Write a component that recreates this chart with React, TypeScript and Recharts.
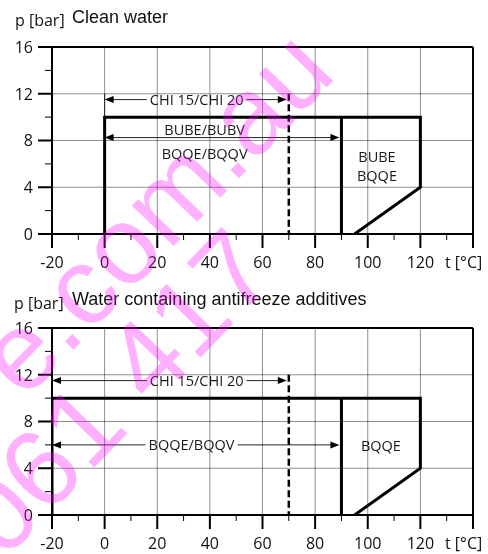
import React, { useLayoutEffect, useRef, useState } from 'react';
import { ComposedChart, Line, XAxis, YAxis, ReferenceLine, ReferenceDot } from 'recharts';

// ---- axes ----
const xTicks = [-20, -10, 0, 10, 20, 30, 40, 50, 60, 70, 80, 90, 100, 110, 120, 130, 140];
const xMajor = [-20, 0, 20, 40, 60, 80, 100, 120, 140];
const xUnitTick = 140;
const xUnitLabel = 't [°C]';
const yTicks = [0, 2, 4, 6, 8, 10, 12, 14, 16];
const yMajor = [0, 4, 8, 12, 16];
const gridX = [0, 20, 40, 60, 80, 100, 120];
const gridY = [4, 8, 12];
const yUnitLabel = 'p [bar]';

// ---- chart 1: clean water ----
const cleanTitle = 'Clean water';
const cleanOutline = [
  { x: 0, y: 0 }, { x: 0, y: 10 }, { x: 120, y: 10 }, { x: 120, y: 4 }, { x: 95, y: 0 },
];
const cleanDivider = [{ x: 90, y: 10 }, { x: 90, y: 0 }];
const cleanChiLimit = [{ x: 70, y: 12 }, { x: 70, y: 0 }];
const cleanGuide = [{ x: 0, y: 10 }, { x: 0, y: 12 }];
const cleanArrows = [
  { from: 0, to: 70, y: 11.5 },
  { from: 0, to: 90, y: 8.25 },
];
const cleanLabels = [
  { x: 35, y: 11.5, text: 'CHI 15/CHI 20', bg: true },
  { x: 38, y: 8.9, text: 'BUBE/BUBV', bg: false },
  { x: 38, y: 6.9, text: 'BQQE/BQQV', bg: false },
  { x: 103.5, y: 6.6, text: 'BUBE', bg: false },
  { x: 103.5, y: 5.0, text: 'BQQE', bg: false },
];

// ---- chart 2: antifreeze ----
const antiTitle = 'Water containing antifreeze additives';
const antiOutline = [
  { x: -20, y: 0 }, { x: -20, y: 10 }, { x: 120, y: 10 }, { x: 120, y: 4 }, { x: 95, y: 0 },
];
const antiDivider = [{ x: 90, y: 10 }, { x: 90, y: 0 }];
const antiChiLimit = [{ x: 70, y: 12 }, { x: 70, y: 0 }];
const antiArrows = [
  { from: -20, to: 70, y: 11.5 },
  { from: -20, to: 90, y: 6 },
];
const antiLabels = [
  { x: 35, y: 11.5, text: 'CHI 15/CHI 20', bg: true },
  { x: 33, y: 6, text: 'BQQE/BQQV', bg: true },
  { x: 105, y: 5.9, text: 'BQQE', bg: false },
];

const watermark1 = 'e.com.au';
const watermark2 = '061 417';

const FONT = '"Open Sans", "DejaVu Sans", sans-serif';
const GRID = '#8f8f8f';
const CHART_W = 488;
const RIGHT = 15;
const Y_AXIS_W = 52;

const XTick = (props: any) => {
  const { x, y, payload, plotTop } = props;
  const v = payload.value;
  const major = xMajor.includes(v);
  return (
    <g>
      {gridX.includes(v) ? (
        <line x1={x} y1={y} x2={x} y2={plotTop} stroke={GRID} strokeWidth={1} style={{ mixBlendMode: 'multiply' }} />
      ) : null}
      <line x1={x} y1={y} x2={x} y2={y + (major ? 14 : 6)} stroke="#000" strokeWidth={major ? 2 : 1} />
      {v === xUnitTick ? (
        <text x={x - 28} y={y + 34} fontFamily={FONT} fontSize={16} fill="#111">{xUnitLabel}</text>
      ) : major ? (
        <text x={x} y={y + 34} textAnchor="middle" fontFamily={FONT} fontSize={16} fill="#111">{v}</text>
      ) : null}
    </g>
  );
};

const YTick = (props: any) => {
  const { x, y, payload } = props;
  const v = payload.value;
  const major = yMajor.includes(v);
  return (
    <g>
      {gridY.includes(v) ? (
        <line x1={x} y1={y} x2={CHART_W - RIGHT} y2={y} stroke={GRID} strokeWidth={1} style={{ mixBlendMode: 'multiply' }} />
      ) : null}
      <line x1={x} y1={y} x2={x - (major ? 14 : 7)} y2={y} stroke="#000" strokeWidth={major ? 2 : 1} />
      {major ? (
        <text x={x - 19} y={y} dy="0.36em" textAnchor="end" fontFamily={FONT} fontSize={16} fill="#111">{v}</text>
      ) : null}
    </g>
  );
};

const arrowShape = (props: any) => {
  const { x1, y1, x2, y2 } = props;
  const L = 9;
  const H = 3.5;
  const rx = x2 - 2;
  return (
    <g>
      <line x1={x1 + L - 1} y1={y1} x2={rx - L + 1} y2={y2} stroke="#222" strokeWidth={1} />
      <polygon points={`${x1},${y1} ${x1 + L},${y1 - H} ${x1 + L},${y1 + H}`} fill="#000" />
      <polygon points={`${rx},${y2} ${rx - L},${y2 - H} ${rx - L},${y2 + H}`} fill="#000" />
    </g>
  );
};

const BgText = ({ cx, cy, text, bg }: any) => {
  const ref = useRef<SVGTextElement>(null);
  const [w, setW] = useState(0);
  useLayoutEffect(() => {
    if (ref.current) setW(ref.current.getBBox().width);
  }, [text]);
  return (
    <g>
      {bg && w > 0 ? <rect x={cx - w / 2 - 3} y={cy - 3} width={w + 6} height={6} fill="#fff" /> : null}
      <text ref={ref} x={cx} y={cy} dy="0.36em" textAnchor="middle" fontFamily={FONT} fontSize={14.5} fill="#1a1a1a">
        {text}
      </text>
    </g>
  );
};

type Pt = { x: number; y: number };
type PanelProps = {
  height: number;
  top: number;
  bottom: number;
  xAxisHeight: number;
  outline: Pt[];
  divider: Pt[];
  chiLimit: Pt[];
  guide?: Pt[];
  arrows: { from: number; to: number; y: number }[];
  labels: { x: number; y: number; text: string; bg: boolean }[];
};

const lineBase = { dot: false, activeDot: false, isAnimationActive: false } as const;

const Panel = ({ height, top, bottom, xAxisHeight, outline, divider, chiLimit, guide, arrows, labels }: PanelProps) => (
  <ComposedChart width={CHART_W} height={height} margin={{ top, right: RIGHT, bottom, left: 0 }}>
    <XAxis
      type="number"
      dataKey="x"
      domain={[-20, 140]}
      ticks={xTicks}
      interval={0}
      allowDataOverflow
      height={xAxisHeight}
      tickSize={0}
      tickMargin={0}
      tickLine={false}
      axisLine={{ stroke: '#000', strokeWidth: 2 }}
      tick={(p: any) => <XTick {...p} plotTop={top} />}
    />
    <YAxis
      type="number"
      dataKey="y"
      domain={[0, 16]}
      ticks={yTicks}
      interval={0}
      allowDataOverflow
      width={Y_AXIS_W}
      tickSize={0}
      tickMargin={0}
      tickLine={false}
      axisLine={{ stroke: '#000', strokeWidth: 2 }}
      tick={(p: any) => <YTick {...p} />}
    />
    <ReferenceLine y={16} stroke="#000" strokeWidth={2} />
    <ReferenceLine x={140} stroke="#000" strokeWidth={2} />
    {guide ? <Line data={guide} dataKey="y" stroke="#333" strokeWidth={1} {...lineBase} /> : null}
    {arrows.map((a, i) => (
      <ReferenceLine
        key={`a${i}`}
        segment={[{ x: a.from, y: a.y }, { x: a.to, y: a.y }]}
        shape={arrowShape}
      />
    ))}
    {labels.map((l, i) => (
      <ReferenceDot
        key={`l${i}`}
        x={l.x}
        y={l.y}
        r={1}
        shape={(p: any) => <BgText cx={p.cx} cy={p.cy} text={l.text} bg={l.bg} />}
      />
    ))}
    <Line data={chiLimit} dataKey="y" stroke="#000" strokeWidth={2.5} strokeDasharray="7 3.5" {...lineBase} />
    <Line data={divider} dataKey="y" stroke="#000" strokeWidth={3} {...lineBase} />
    <Line data={outline} dataKey="y" stroke="#000" strokeWidth={3} strokeLinejoin="miter" {...lineBase} />
  </ComposedChart>
);

export default function App() {
  return (
    <div style={{ position: 'absolute', left: 0, top: 0, width: 488, height: 554, background: '#fff', overflow: 'hidden' }}>
      <div style={{ position: 'absolute', left: 0, top: 0 }}>
        <Panel
          height={282}
          top={47}
          bottom={12}
          xAxisHeight={36}
          outline={cleanOutline}
          divider={cleanDivider}
          chiLimit={cleanChiLimit}
          guide={cleanGuide}
          arrows={cleanArrows}
          labels={cleanLabels}
        />
      </div>
      <div style={{ position: 'absolute', left: 0, top: 270 }}>
        <Panel
          height={284}
          top={58}
          bottom={0}
          xAxisHeight={39}
          outline={antiOutline}
          divider={antiDivider}
          chiLimit={antiChiLimit}
          arrows={antiArrows}
          labels={antiLabels}
        />
      </div>
      <svg width={488} height={554} style={{ position: 'absolute', left: 0, top: 0, pointerEvents: 'none' }}>
        <text x={15} y={26} fontFamily={FONT} fontSize={16} fill="#111">{yUnitLabel}</text>
        <text x={72} y={23} fontFamily='"Liberation Sans", Arial, sans-serif' fontSize={18} fill="#111">{cleanTitle}</text>
        <text x={14} y={309} fontFamily={FONT} fontSize={16} fill="#111">{yUnitLabel}</text>
        <text x={72} y={305} fontFamily='"Liberation Sans", Arial, sans-serif' fontSize={18} fill="#111">{antiTitle}</text>
        <g fill="#ff00ff" fillOpacity={0.31} fontFamily='"Liberation Sans", Arial, sans-serif' fontSize={110}>
          <text x={24} y={401} transform="rotate(-46 24 401)">{watermark1}</text>
          <text x={3.5} y={561.5} transform="rotate(-46 3.5 561.5)">{watermark2}</text>
        </g>
      </svg>
    </div>
  );
}
